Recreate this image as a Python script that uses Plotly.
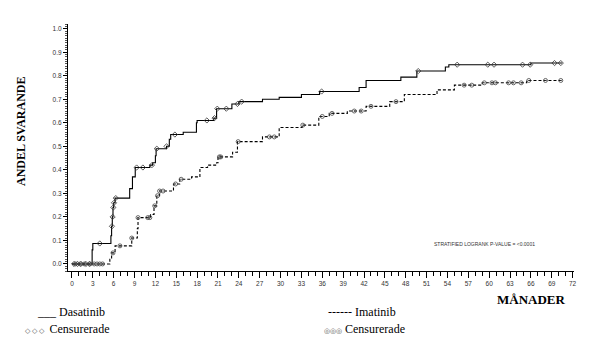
import numpy as np
import plotly.graph_objects as go

# Dasatinib cumulative proportion responding (step times in months, values)
das_t = [0, 2.9, 3.0, 5.6, 5.7, 5.8, 5.9, 6.0, 6.2, 8.3, 8.7, 9.1, 11.2, 11.6, 12.0, 12.1,
         13.6, 14.0, 14.2, 16.0, 17.9, 18.0, 20.4, 20.8, 23.0, 24.0, 27.4, 29.8, 33.0, 35.6,
         41.3, 42.3, 47.3, 49.6, 53.7, 54.2, 66.0, 70.5]
das_v = [0, 0.06, 0.087, 0.12, 0.16, 0.20, 0.24, 0.26, 0.28, 0.32, 0.37, 0.41, 0.42, 0.43, 0.46, 0.49,
         0.50, 0.53, 0.55, 0.56, 0.60, 0.61, 0.62, 0.66, 0.68, 0.69, 0.70, 0.708, 0.72, 0.733,
         0.75, 0.78, 0.794, 0.82, 0.837, 0.847, 0.854, 0.854]
das_cens = [0.3, 0.8, 1.3, 2.0, 2.5, 4.0, 5.75, 5.85, 5.95, 6.05, 6.3, 9.3, 10.2, 11.5, 12.2,
            13.6, 14.8, 19.4, 20.5, 20.9, 22.2, 23.8, 24.4, 35.9, 49.8, 55.4, 59.8, 60.7,
            64.8, 65.9, 69.4, 70.3]

# Imatinib
ima_t = [0, 5.45, 5.7, 6.2, 8.6, 9.4, 9.5, 11.3, 11.8, 12.2, 12.6, 14.6, 15.5, 17.2, 18.4,
         19.5, 20.8, 21.0, 23.1, 23.8, 27.4, 29.8, 33.1, 35.5, 37.0, 39.6, 42.3, 45.7, 47.8,
         52.5, 55.0, 59.0, 65.4, 70.4]
ima_v = [0, 0.02, 0.047, 0.077, 0.11, 0.15, 0.197, 0.21, 0.247, 0.29, 0.31, 0.34, 0.36, 0.37, 0.41,
         0.42, 0.43, 0.455, 0.475, 0.52, 0.54, 0.58, 0.59, 0.627, 0.64, 0.65, 0.67, 0.69, 0.72,
         0.74, 0.76, 0.77, 0.78, 0.78]
ima_cens = [0.5, 1.2, 1.8, 2.6, 3.2, 3.6, 4.0, 4.4, 5.9, 6.9, 8.6, 9.5, 10.9, 11.2, 11.9, 12.3,
            12.6, 13.1, 14.9, 15.7, 21.2, 21.4, 23.9, 28.4, 29.1, 33.2, 36.0, 37.4, 40.6,
            41.6, 43.0, 46.6, 56.4, 57.5, 59.3, 60.4, 60.9, 62.8, 63.5, 64.6, 65.7, 68.1, 70.3]

x_ticks = list(range(0, 73, 3))
y_ticks = [round(0.1 * i, 1) for i in range(11)]


def step_at(ts, vs, c):
    idx = np.searchsorted(np.array(ts), np.array(c), side="right") - 1
    return np.array(vs)[idx]


fig = go.Figure()
fig.add_trace(go.Scatter(x=das_t, y=das_v, mode="lines", line_shape="hv",
                         line=dict(color="black", width=1.1), showlegend=False))
fig.add_trace(go.Scatter(x=ima_t, y=ima_v, mode="lines", line_shape="hv",
                         line=dict(color="black", width=1.1, dash="3px,2px"), showlegend=False))
fig.add_trace(go.Scatter(x=das_cens, y=step_at(das_t, das_v, das_cens), mode="markers",
                         marker=dict(symbol="diamond-open", size=4, color="#333",
                                     line=dict(width=0.8)), showlegend=False))
fig.add_trace(go.Scatter(x=ima_cens, y=step_at(ima_t, ima_v, ima_cens), mode="markers",
                         marker=dict(symbol="circle-open-dot", size=4, color="#444",
                                     line=dict(width=0.8)), showlegend=False))

tickfont = dict(family="Liberation Sans, Arial", size=6.5, color="#333")
fig.update_layout(
    width=592, height=345,
    margin=dict(l=68, r=18, t=24, b=74),
    paper_bgcolor="white", plot_bgcolor="white",
    xaxis=dict(range=[-0.57, 72.2], tickvals=x_ticks, ticktext=[str(v) for v in x_ticks],
               showline=True, linecolor="black", linewidth=1.2, ticks="outside",
               ticklen=6, tickwidth=1, tickcolor="black", tickfont=tickfont,
               showgrid=False, zeroline=False,
               minor=dict(dtick=1, tick0=0, ticks="outside", ticklen=4, tickcolor="black",
                          showgrid=False)),
    yaxis=dict(range=[-0.03, 1.02], tickvals=y_ticks, ticktext=[f"{v:.1f}" for v in y_ticks],
               showline=True, linecolor="black", linewidth=1.2, ticks="outside",
               ticklen=4, tickwidth=1, tickcolor="black", tickfont=tickfont,
               showgrid=False, zeroline=False,
               minor=dict(dtick=0.01, tick0=0, ticks="outside", ticklen=2, tickcolor="#555",
                          showgrid=False)),
)

serif = "Liberation Serif, Times New Roman"
ann = [
    dict(text="<b>ANDEL SVARANDE</b>", x=21, y=345 - 132, textangle=-90,
         font=dict(family=serif, size=12, color="black")),
    dict(text="<b>MÅNADER</b>", x=531, y=345 - 299,
         font=dict(family=serif, size=13, color="black")),
    dict(text="STRATIFIED LOGRANK P-VALUE = <0.0001", x=484, y=345 - 244,
         font=dict(family="Liberation Sans, Arial", size=5, color="#333")),
    dict(text="___ Dasatinib", x=71, y=345 - 312, font=dict(family=serif, size=12, color="black")),
    dict(text="<span style='font-size:7px;color:#555'>◇ ◇ ◇</span>  Censurerade", x=67, y=345 - 329,
         font=dict(family=serif, size=12, color="black")),
    dict(text="------ Imatinib", x=362, y=345 - 312, font=dict(family=serif, size=12, color="black")),
    dict(text="<span style='font-size:7px;color:#555'>◎◎◎</span> Censurerade", x=364, y=345 - 329,
         font=dict(family=serif, size=12, color="black")),
]
for a in ann:
    fig.add_annotation(xref="paper", yref="paper", x=(a["x"] - 68) / (592 - 68 - 18),
                       y=(a["y"] - 74) / (345 - 24 - 74), text=a["text"], showarrow=False,
                       textangle=a.get("textangle", 0), font=a["font"],
                       xanchor="center", yanchor="middle")

fig.write_html("out.html")
